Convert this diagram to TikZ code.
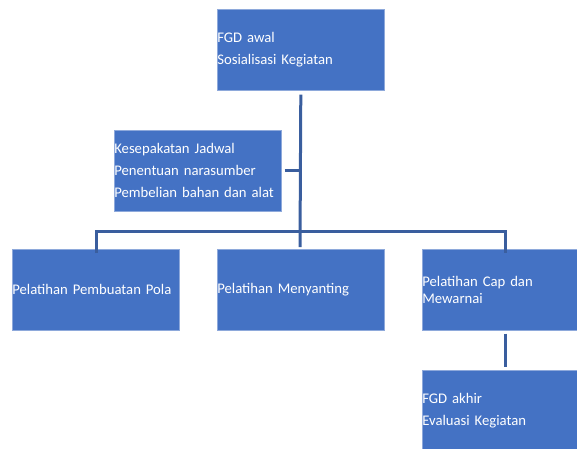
\documentclass[tikz,border=0pt]{standalone}
\usepackage{fontspec}
\setmainfont{Carlito}
\definecolor{boxblue}{HTML}{4472C4}
\definecolor{boxedge}{HTML}{8EA9DB}
\definecolor{linkblue}{HTML}{3A5E9E}
\tikzset{
  stepbox/.style={rectangle, fill=boxblue, draw=boxedge, line width=0.6pt,
    minimum width=167pt, minimum height=81pt, text width=167pt, inner sep=0pt,
    align=left, text=white, anchor=north west,
    font=\fontsize{14.7}{17}\selectfont},
  link/.style={draw=linkblue, line width=3pt}
}
\begin{document}
\begin{tikzpicture}[x=1pt, y=-1pt]
    \useasboundingbox (0,0) rectangle (577,448);
    \clip (0,0) rectangle (577,448);
    %%the boxes
    \node[stepbox] (awal) at (217, 9){FGD awal\\[5pt]Sosialisasi Kegiatan};
    \node[stepbox] (persiapan) at (114, 130){Kesepakatan Jadwal\\[5pt]Penentuan narasumber\\[5pt]Pembelian bahan dan alat};
    \node[stepbox] (pola) at (12, 249){Pelatihan Pembuatan Pola};
    \node[stepbox] (menyanting) at (217, 249){Pelatihan Menyanting};
    \node[stepbox] (cap) at (422, 249){Pelatihan Cap dan\\Mewarnai};
    \node[stepbox] (akhir) at (422, 370){FGD akhir\\[5pt]Evaluasi Kegiatan};
    %%the connectors
    \coordinate (trunktop) at ([yshift=-4pt]awal.south);
    \coordinate (branch) at (300, 231);
    \coordinate (left) at (96, 231);
    \coordinate (right) at (505, 231);
    \draw[link] (trunktop) -- (300, 247);
    \draw[link] ([xshift=3pt]persiapan.east) -- (persiapan.east -| branch);
    \draw[link] ([yshift=-4pt]pola.north -| left) -- (left) -- (right) -- ([yshift=-4pt]cap.north -| right);
    \draw[link] ([yshift=-3pt]cap.south -| right) -- ([yshift=3pt]akhir.north -| right);
\end{tikzpicture}
\end{document}
